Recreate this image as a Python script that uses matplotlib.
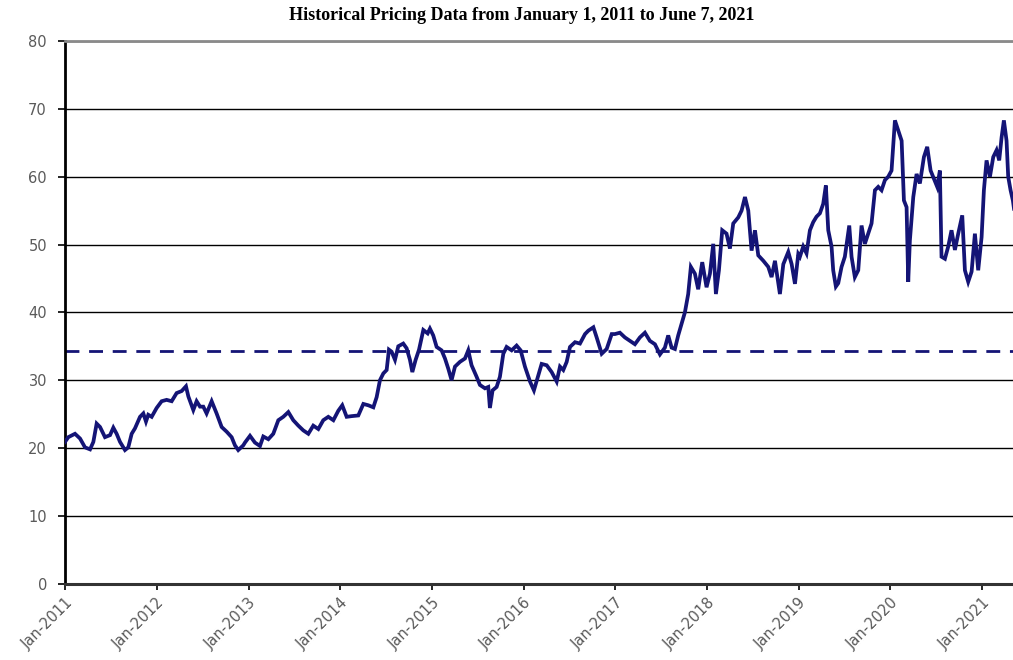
import numpy as np
import pandas as pd
import matplotlib
matplotlib.use("Agg")
import matplotlib.pyplot as plt
import matplotlib.dates as mdates

# price readings, time as years since 2011-01-01
t_2011 = [0.000, 0.036, 0.109, 0.164, 0.218, 0.273, 0.309, 0.345, 0.382, 0.436,
          0.491, 0.527, 0.563, 0.600, 0.654, 0.690, 0.727, 0.763, 0.818, 0.854,
          0.883, 0.908, 0.945, 0.999, 1.054, 1.108, 1.163, 1.217, 1.272, 1.319,
          1.345, 1.399, 1.435, 1.472, 1.508, 1.544, 1.599, 1.653, 1.708, 1.763,
          1.817, 1.853, 1.889, 1.944]
v_2011 = [20.9, 21.6, 22.1, 21.4, 20.1, 19.8, 20.9, 23.6, 23.1, 21.6,
          21.9, 23.0, 22.1, 20.9, 19.7, 20.1, 22.1, 22.9, 24.6, 25.1,
          23.9, 24.9, 24.6, 25.9, 26.9, 27.1, 26.9, 28.1, 28.4, 29.1,
          27.6, 25.6, 26.9, 26.1, 26.1, 25.1, 26.9, 25.1, 23.1, 22.4,
          21.6, 20.4, 19.7, 20.4]

t_2013 = [1.962, 2.017, 2.071, 2.126, 2.162, 2.217, 2.271, 2.326, 2.380, 2.435,
          2.489, 2.544, 2.598, 2.653, 2.707, 2.762, 2.816, 2.871, 2.926, 2.980,
          3.023, 3.071, 3.125, 3.198, 3.253, 3.307, 3.362, 3.398, 3.434, 3.471,
          3.507, 3.532, 3.561, 3.598, 3.634, 3.688, 3.725, 3.761, 3.787, 3.823,
          3.860, 3.907, 3.954]
v_2013 = [20.8, 21.8, 20.8, 20.3, 21.7, 21.3, 22.1, 24.1, 24.6, 25.3,
          24.1, 23.3, 22.6, 22.1, 23.3, 22.8, 24.1, 24.6, 24.1, 25.5,
          26.3, 24.6, 24.7, 24.8, 26.5, 26.3, 26.0, 27.5, 30.0, 31.0,
          31.5, 34.5, 34.2, 33.0, 35.0, 35.4, 34.7, 33.0, 31.2, 33.0,
          34.5, 37.4, 36.9]

t_2015 = [3.979, 4.015, 4.052, 4.106, 4.143, 4.179, 4.215, 4.252, 4.306, 4.361,
          4.397, 4.433, 4.488, 4.524, 4.579, 4.615, 4.633, 4.662, 4.706, 4.742,
          4.779, 4.815, 4.870, 4.924, 4.968, 5.015, 5.070, 5.113, 5.161, 5.197,
          5.252, 5.306, 5.361, 5.397, 5.433, 5.470, 5.506, 5.561, 5.615, 5.670,
          5.706, 5.761, 5.797, 5.852, 5.906, 5.961]
v_2015 = [37.6, 36.6, 34.9, 34.4, 33.2, 31.7, 30.0, 32.0, 32.7, 33.2,
          34.4, 32.2, 30.5, 29.3, 28.8, 29.0, 25.9, 28.5, 29.0, 30.5,
          33.9, 34.9, 34.4, 35.1, 34.4, 32.0, 29.8, 28.5, 30.7, 32.4,
          32.2, 31.2, 29.8, 32.0, 31.5, 32.7, 34.9, 35.6, 35.4, 36.8,
          37.3, 37.8, 36.3, 33.9, 34.6, 36.8]

t_2017 = [5.996, 6.050, 6.105, 6.159, 6.214, 6.268, 6.323, 6.377, 6.432, 6.487,
          6.541, 6.577, 6.614, 6.650, 6.686, 6.723, 6.759, 6.795, 6.824, 6.868,
          6.904, 6.948, 6.995, 7.032, 7.068, 7.097, 7.130, 7.166, 7.213, 7.250,
          7.286, 7.341, 7.377, 7.414, 7.450, 7.486, 7.523, 7.559, 7.614, 7.668,
          7.704, 7.741, 7.795, 7.832, 7.886, 7.923, 7.959, 7.995]
v_2017 = [36.8, 37.0, 36.3, 35.8, 35.3, 36.3, 37.0, 35.8, 35.3, 33.8,
          34.8, 36.6, 34.8, 34.6, 36.6, 38.3, 40.0, 42.7, 46.7, 45.7,
          43.4, 47.4, 43.7, 45.7, 50.1, 42.7, 46.2, 52.1, 51.6, 49.4,
          53.1, 54.0, 55.0, 57.0, 55.0, 49.1, 52.1, 48.4, 47.6, 46.7,
          45.2, 47.6, 42.7, 47.1, 48.9, 47.1, 44.2, 48.6]

t_2019 = [8.013, 8.049, 8.085, 8.122, 8.158, 8.194, 8.231, 8.267, 8.296, 8.322,
          8.358, 8.376, 8.405, 8.431, 8.467, 8.503, 8.551, 8.576, 8.612, 8.649,
          8.685, 8.721, 8.758, 8.794, 8.831, 8.867, 8.903, 8.940, 8.976, 9.012,
          9.049, 9.085, 9.122, 9.147, 9.176, 9.194, 9.212, 9.249, 9.285, 9.321,
          9.365, 9.401, 9.438, 9.474, 9.510, 9.539, 9.557, 9.594, 9.630, 9.666,
          9.703, 9.739, 9.783, 9.812, 9.848, 9.885, 9.921, 9.957, 9.994, 10.019,
          10.048, 10.085, 10.121, 10.157, 10.186, 10.212, 10.237, 10.266, 10.284, 10.310,
          10.335, 10.360]
v_2019 = [48.2, 49.7, 48.7, 52.1, 53.3, 54.1, 54.6, 56.0, 58.7, 52.1,
          49.7, 46.2, 43.8, 44.3, 46.7, 48.2, 52.8, 48.2, 45.2, 46.2,
          52.8, 50.1, 51.6, 53.1, 58.0, 58.5, 58.0, 59.5, 60.0, 60.9,
          68.3, 66.8, 65.3, 56.5, 55.5, 44.5, 50.6, 57.0, 60.4, 59.0,
          62.9, 64.4, 60.9, 59.7, 58.5, 60.9, 48.2, 47.9, 49.7, 52.1,
          49.2, 51.6, 54.3, 46.2, 44.5, 46.0, 51.6, 46.2, 51.1, 58.0,
          62.4, 60.0, 62.9, 63.9, 62.4, 65.8, 68.3, 65.3, 60.0, 58.0,
          56.5, 54.0]

ref_level = 34.3
years = list(range(2011, 2022))

start = pd.Timestamp("2011-01-01")
end = pd.Timestamp("2021-06-07")

t = np.array(t_2011 + t_2013 + t_2015 + t_2017 + t_2019)
v = np.array(v_2011 + v_2013 + v_2015 + v_2017 + v_2019)
dates = start + pd.to_timedelta(t * 365.25, unit="D")

fig = plt.figure(figsize=(10.13, 6.6), dpi=100)
ax = fig.add_axes([65 / 1013, 76.3 / 660, 956.7 / 1013, 542.7 / 660])

line_col = "#141476"
ax.plot(dates, v, color=line_col, lw=2.7, solid_joinstyle="miter", zorder=3)
ax.axhline(ref_level, color=line_col, lw=2.0, dashes=(5, 3.5), zorder=2)

ax.set_xlim(start, end)
ax.set_ylim(0, 80)
ax.set_yticks(range(0, 81, 10))
ax.yaxis.grid(True, color="black", lw=1.0)
ax.set_axisbelow(True)

ax.set_xticks([pd.Timestamp(f"{y}-01-01") for y in years])
ax.xaxis.set_major_formatter(mdates.DateFormatter("%b-%Y"))
plt.setp(ax.get_xticklabels(), rotation=45, ha="right", rotation_mode="anchor")

ax.tick_params(axis="y", length=5, width=1.2, pad=8, labelsize=10.5, labelcolor="#5a5a5a")
ax.tick_params(axis="x", length=4, width=1.2, pad=4, labelsize=10.5, labelcolor="#5a5a5a")

ax.spines["left"].set_linewidth(2)
ax.spines["left"].set_color("black")
ax.spines["bottom"].set_linewidth(2.2)
ax.spines["bottom"].set_color("#333333")
ax.spines["top"].set_linewidth(2)
ax.spines["top"].set_color("#8a8a8a")
ax.spines["right"].set_visible(False)

fig.text(0.515, 1 - 16 / 660, "Historical Pricing Data from January 1, 2011 to June 7, 2021",
         ha="center", va="center", fontsize=13, fontweight="bold", family="Liberation Serif")

fig.savefig("out.png", dpi=100)
